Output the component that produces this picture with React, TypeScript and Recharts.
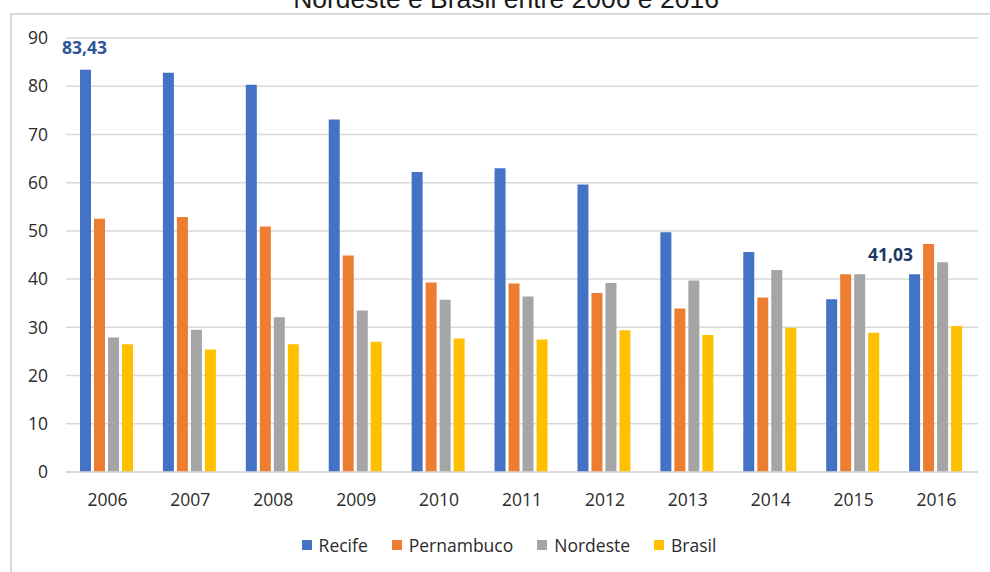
import React from 'react';
import { BarChart, Bar, XAxis, YAxis, CartesianGrid, Legend, LabelList } from 'recharts';

const years = ['2006', '2007', '2008', '2009', '2010', '2011', '2012', '2013', '2014', '2015', '2016'];
const recife = [83.43, 82.8, 80.3, 73.1, 62.2, 63.0, 59.6, 49.7, 45.6, 35.8, 41.03];
const pernambuco = [52.5, 52.9, 50.9, 44.9, 39.3, 39.1, 37.1, 33.9, 36.2, 41.0, 47.3];
const nordeste = [27.9, 29.5, 32.1, 33.5, 35.7, 36.4, 39.2, 39.7, 41.9, 41.0, 43.5];
const brasil = [26.5, 25.4, 26.5, 27.0, 27.7, 27.5, 29.4, 28.4, 29.9, 28.9, 30.3];
const seriesNames = ['Recife', 'Pernambuco', 'Nordeste', 'Brasil'];
const yTicks = [0, 10, 20, 30, 40, 50, 60, 70, 80, 90];
const labeledIndices = [0, 10];

const data = years.map((y, i) => ({
  year: y,
  Recife: recife[i],
  Pernambuco: pernambuco[i],
  Nordeste: nordeste[i],
  Brasil: brasil[i],
}));

const FONT = '"Open Sans", "Noto Sans", sans-serif';

const RecifeLabel = (props: any) => {
  const { x, y, width, value, index } = props;
  if (!labeledIndices.includes(index)) return null;
  const first = index === 0;
  const cx = x + width / 2 + (first ? -1 : -24);
  const cy = y + (first ? -23 : -20.5);
  return (
    <text
      x={cx}
      y={cy}
      textAnchor="middle"
      dominantBaseline="central"
      fontFamily={FONT}
      fontWeight={700}
      fontSize={17.5}
      fill={first ? '#2F5597' : '#203864'}
    >
      {Number(value).toFixed(2).replace('.', ',')}
    </text>
  );
};

const LegendContent = (props: any) => {
  const payload = [...(props.payload || [])].sort(
    (a: any, b: any) => seriesNames.indexOf(a.value) - seriesNames.indexOf(b.value)
  );
  return (
    <div style={{ display: 'flex', justifyContent: 'center', alignItems: 'center', paddingLeft: 28, fontFamily: FONT, fontSize: 17.5, color: '#2b2b2b' }}>
      {payload.map((p: any, i: number) => (
        <div key={i} style={{ display: 'flex', alignItems: 'center', marginLeft: i === 0 ? 0 : 24 }}>
          <span style={{ display: 'inline-block', width: 10, height: 10, background: p.color, marginRight: 7 }} />
          <span>{p.value}</span>
        </div>
      ))}
    </div>
  );
};

export default function App() {
  return (
    <div style={{ position: 'fixed', left: 0, top: 0, width: 990, height: 572, background: '#fff', overflow: 'hidden' }}>
      <div
        style={{
          position: 'absolute',
          left: 10,
          top: 13,
          width: 1000,
          height: 600,
          borderLeft: '2px solid #d9d9d9',
          borderTop: '2px solid #d9d9d9',
          boxSizing: 'border-box',
        }}
      />
      <svg style={{ position: 'absolute', left: 0, top: 0 }} width={990} height={20}>
        <text x={506} y={8} textAnchor="middle" fontFamily='"Liberation Sans", Arial, sans-serif' fontSize={26.5} fill="#1a1a1a">
          Nordeste e Brasil entre 2006 e 2016
        </text>
      </svg>
      <div style={{ position: 'absolute', left: 0, top: 0 }}>
        <BarChart
          width={990}
          height={572}
          data={data}
          margin={{ top: 38, right: 12, left: 0, bottom: 0 }}
          barCategoryGap={14}
          barGap={3}
        >
          <CartesianGrid vertical={false} stroke="#d9d9d9" strokeWidth={1.5} />
          <XAxis
            dataKey="year"
            height={100}
            tickLine={false}
            axisLine={{ stroke: '#d9d9d9', strokeWidth: 1.5 }}
            tickSize={0}
            tickMargin={22}
            tick={{ fontFamily: FONT, fontSize: 17.5, fill: '#2b2b2b' }}
          />
          <YAxis
            width={66}
            domain={[0, 90]}
            ticks={yTicks}
            interval={0}
            tickLine={false}
            axisLine={false}
            tickSize={0}
            tickMargin={18}
            tick={{ fontFamily: FONT, fontSize: 17.5, fill: '#2b2b2b' }}
          />
          <Legend
            verticalAlign="middle"
            align="center"
            wrapperStyle={{ top: 533, left: 0, width: 990 }}
            content={<LegendContent />}
          />
          <Bar dataKey="Recife" fill="#4472C4" isAnimationActive={false}>
            <LabelList dataKey="Recife" content={<RecifeLabel />} />
          </Bar>
          <Bar dataKey="Pernambuco" fill="#ED7D31" isAnimationActive={false} />
          <Bar dataKey="Nordeste" fill="#A5A5A5" isAnimationActive={false} />
          <Bar dataKey="Brasil" fill="#FFC000" isAnimationActive={false} />
        </BarChart>
      </div>
    </div>
  );
}
